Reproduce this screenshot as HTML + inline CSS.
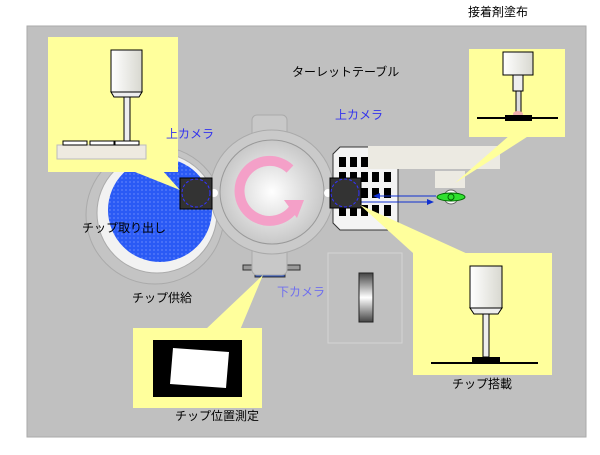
<!DOCTYPE html>
<html><head><meta charset="utf-8"><style>
body{margin:0;background:#fff;width:600px;height:450px;overflow:hidden}
text{font-family:"Liberation Sans","Noto Sans CJK JP",sans-serif;font-size:12px}
</style></head><body>
<svg width="600" height="450" xmlns="http://www.w3.org/2000/svg">
<defs>
<radialGradient id="tg" cx="0.5" cy="0.5" r="0.5"><stop offset="0" stop-color="#fff"/><stop offset="1" stop-color="#c8c8c8"/></radialGradient>
<linearGradient id="cam" x1="0" x2="1"><stop offset="0" stop-color="#fff"/><stop offset="1" stop-color="#d8d8d0"/></linearGradient>
<linearGradient id="bar" x1="0" y1="0" x2="0" y2="1"><stop offset="0" stop-color="#444"/><stop offset="0.5" stop-color="#fff"/><stop offset="1" stop-color="#444"/></linearGradient>
<pattern id="dots" width="4" height="4" patternUnits="userSpaceOnUse"><rect width="4" height="4" fill="#2a5af5"/><circle cx="2" cy="2" r="0.6" fill="#8fa8ff"/></pattern>
</defs>
<rect x="27" y="26" width="559" height="411" fill="#c0c0c0" stroke="#aaa"/>
<text x="468" y="16">接着剤塗布</text>
<text x="292" y="76">ターレットテーブル</text>
<circle cx="155" cy="215" r="69" fill="#c4c4c4" stroke="#aaa"/>
<circle cx="157" cy="213" r="60" fill="#f2f2f2" stroke="#aaa"/>
<circle cx="160" cy="210" r="52" fill="url(#dots)"/>
<rect x="252" y="115" width="35" height="30" rx="5" fill="#c8c8c8" stroke="#aaa"/>
<rect x="243" y="265" width="57" height="5" fill="#999" stroke="#333"/>
<rect x="255" y="265" width="30" height="12" fill="#2850c0" stroke="#333"/>
<rect x="252" y="245" width="35" height="30" rx="5" fill="#c8c8c8" stroke="#aaa"/>
<circle cx="272" cy="192" r="62" fill="#cacaca" stroke="#aaa"/>
<circle cx="272" cy="192" r="52" fill="url(#tg)" stroke="#999"/>
<path d="M290,169 A30,30 0 1 0 296,205" fill="none" stroke="#f4a0c8" stroke-width="10"/>
<polygon points="284,200 304,200 297,218" fill="#f4a0c8"/>
<circle cx="214" cy="193" r="4" fill="#fff"/>
<circle cx="328" cy="193" r="4" fill="#fff"/>
<path d="M340,147 L392,147 L398,153 L398,225 L393,230 L340,230 L333,223 L333,154 Z" fill="#f4f4f4" stroke="#333"/>
<g fill="#000">
<rect x="339" y="157" width="7" height="10"/><rect x="350" y="157" width="7" height="10"/><rect x="361" y="157" width="7" height="10"/><rect x="372" y="157" width="7" height="10"/><rect x="384" y="157" width="7" height="10"/>
<rect x="339" y="172" width="7" height="10"/><rect x="350" y="172" width="7" height="10"/><rect x="361" y="172" width="7" height="10"/><rect x="372" y="172" width="7" height="10"/><rect x="384" y="172" width="7" height="10"/>
<rect x="339" y="188" width="7" height="10"/><rect x="350" y="188" width="7" height="10"/><rect x="361" y="188" width="7" height="10"/><rect x="372" y="188" width="7" height="10"/><rect x="384" y="188" width="7" height="10"/>
<rect x="339" y="205" width="7" height="11"/><rect x="350" y="205" width="7" height="11"/><rect x="361" y="205" width="7" height="11"/><rect x="372" y="205" width="7" height="11"/><rect x="384" y="205" width="7" height="11"/>
</g>
<rect x="368" y="146" width="132" height="23" fill="#eceae2"/>
<rect x="435" y="171" width="30" height="17" fill="#eceae2"/>
<line x1="375" y1="196" x2="436" y2="196" stroke="#1030d0"/><polygon points="373,196 380,193 380,199" fill="#1030d0"/>
<line x1="361" y1="202" x2="430" y2="202" stroke="#1030d0"/><polygon points="434,202 427,199 427,205" fill="#1030d0"/>
<circle cx="451" cy="197" r="7" fill="#fff" stroke="#666"/>
<ellipse cx="451" cy="197" rx="14" ry="4" fill="#30e030" stroke="#060"/>
<circle cx="451" cy="197" r="3" fill="#30e030" stroke="#060"/>
<rect x="180" y="178" width="32" height="31" fill="#333" stroke="#000"/><circle cx="196" cy="193" r="14" fill="none" stroke="#33f" stroke-dasharray="3,2"/>
<rect x="330" y="178" width="31" height="30" fill="#333" stroke="#000"/><circle cx="345" cy="193" r="14" fill="none" stroke="#33f" stroke-dasharray="3,2"/>
<rect x="328" y="253" width="74" height="90" fill="#c0c0c0" stroke="#d4d4d4"/>
<rect x="359" y="273" width="14" height="49" fill="url(#bar)" stroke="#222"/>
<g fill="#ffff9c">
<rect x="48" y="37" width="130" height="135"/><polygon points="130,170 162,170 180,190"/>
<rect x="469" y="49" width="96" height="88"/><polygon points="510,135 530,135 455,183"/>
<rect x="413" y="253" width="139" height="122"/><polygon points="360,205 413,253 470,255"/>
<rect x="133" y="328" width="129" height="80"/><polygon points="205,330 240,330 263,275"/>
</g>
<rect x="111" y="50" width="31" height="42" fill="url(#cam)" stroke="#000"/>
<path d="M111,92 L142,92 L139,97 L114,97 Z" fill="#eee" stroke="#000"/>
<rect x="124" y="97" width="6" height="44" fill="#eee" stroke="#000"/>
<rect x="57" y="145" width="89" height="14" fill="#eeeae0" stroke="#bbb"/>
<rect x="63" y="141" width="24" height="4" fill="#fff" stroke="#000"/><rect x="90" y="141" width="24" height="4" fill="#fff" stroke="#000"/><rect x="115" y="141" width="24" height="4" fill="#fff" stroke="#000"/>
<rect x="503" y="52" width="30" height="23" fill="url(#cam)" stroke="#000"/>
<rect x="513" y="75" width="10" height="16" fill="#eee" stroke="#000"/>
<rect x="516" y="91" width="5" height="21" fill="#ddd" stroke="#000"/>
<ellipse cx="518" cy="114" rx="5" ry="3" fill="#f0b0b0"/>
<line x1="477" y1="118" x2="558" y2="118" stroke="#000" stroke-width="2"/>
<rect x="505" y="115" width="27" height="6" fill="#000"/>
<rect x="470" y="266" width="32" height="42" fill="url(#cam)" stroke="#000"/>
<path d="M470,308 L502,308 L498,314 L474,314 Z" fill="#eee" stroke="#000"/>
<rect x="483" y="314" width="6" height="43" fill="#eee" stroke="#000"/>
<rect x="472" y="357" width="28" height="5" fill="#000"/>
<line x1="431" y1="363" x2="538" y2="363" stroke="#000" stroke-width="2"/>
<rect x="153" y="340" width="89" height="57" fill="#000"/>
<polygon points="173,348 229,352 226,388 170,384" fill="#fff"/>
<g fill="#3333ee"><text x="166" y="138">上カメラ</text><text x="335" y="119">上カメラ</text></g>
<text x="277" y="296" fill="#6f6fee">下カメラ</text>
<text x="82" y="232">チップ取り出し</text>
<text x="132" y="302">チップ供給</text>
<text x="175" y="420">チップ位置測定</text>
<text x="452" y="388">チップ搭載</text>
</svg>
</body></html>
